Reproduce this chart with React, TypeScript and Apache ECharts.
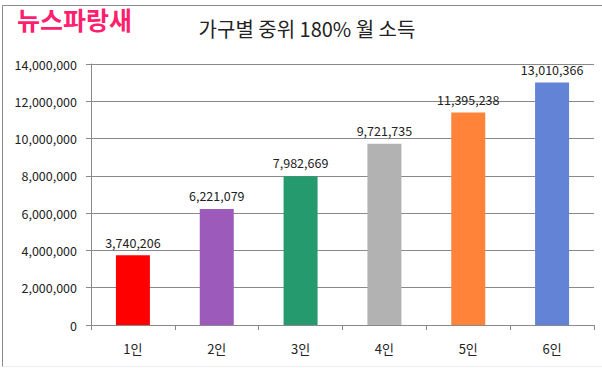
import React, { useEffect, useRef } from "react";
import * as echarts from "echarts";

const categories = ["1인", "2인", "3인", "4인", "5인", "6인"];
const values = [3740206, 6221079, 7982669, 9721735, 11395238, 13010366];
const barColors = ["#FF0000", "#9C5BBB", "#259A6F", "#B2B2B2", "#FF843A", "#6283D6"];
const titleText = "가구별 중위 180% 월 소득";
const watermark = "뉴스파랑새";

const fmt = (v: number) => v.toLocaleString("en-US");

export default function App() {
  const ref = useRef<HTMLDivElement>(null);
  useEffect(() => {
    if (!ref.current) return;
    const chart = echarts.init(ref.current, null, { renderer: "svg" });
    const font = "'Noto Sans CJK KR', 'Noto Sans', sans-serif";
    chart.setOption({
      animation: false,
      backgroundColor: "#ffffff",
      textStyle: { fontFamily: font },
      title: {
        text: titleText,
        left: 302,
        textAlign: "center",
        top: 13,
        textStyle: { fontSize: 20, fontWeight: "normal", color: "#222", fontFamily: font },
      },
      graphic: [
        { type: "line", shape: { x1: 2.5, y1: 5.5, x2: 602, y2: 5.5 }, style: { stroke: "#8a8a8a", lineWidth: 1 } },
        { type: "line", shape: { x1: 2.5, y1: 5.5, x2: 2.5, y2: 367 }, style: { stroke: "#8a8a8a", lineWidth: 1 } },
        { type: "line", shape: { x1: 2.5, y1: 366.5, x2: 602, y2: 366.5 }, style: { stroke: "#eeeeee", lineWidth: 1 } },
        {
          type: "text",
          left: 17,
          top: 6,
          z: 10,
          style: {
            text: watermark,
            fill: "#FF1F6E",
            font: `bold 25px ${font}`,
            shadowColor: "rgba(0,0,0,0.35)",
            shadowBlur: 3,
            shadowOffsetX: 1,
            shadowOffsetY: 2,
          },
        },
      ],
      grid: { left: 91, right: 8, top: 64, bottom: 43, containLabel: false },
      xAxis: {
        type: "category",
        data: categories,
        axisLine: { lineStyle: { color: "#898989", width: 1 } },
        axisTick: { show: true, length: 5, lineStyle: { color: "#898989" } },
        axisLabel: { color: "#222", fontSize: 13, margin: 17, fontFamily: font },
        splitLine: { show: false },
      },
      yAxis: {
        type: "value",
        min: 0,
        max: 14000000,
        interval: 2000000,
        axisLine: { show: true, lineStyle: { color: "#898989", width: 1 } },
        axisTick: { show: true, length: 5, lineStyle: { color: "#898989" } },
        axisLabel: { color: "#222", fontSize: 12.5, margin: 14, formatter: (v: number) => fmt(v), fontFamily: font },
        splitLine: { show: true, lineStyle: { color: "#898989", width: 1 } },
      },
      series: [
        {
          type: "bar",
          data: values.map((v, i) => ({ value: v, itemStyle: { color: barColors[i] } })),
          barWidth: 34,
          label: {
            show: true,
            position: "top",
            distance: 7,
            color: "#222",
            fontSize: 12.5,
            fontFamily: font,
            formatter: (p: any) => fmt(p.value),
          },
        },
      ],
    });
    return () => chart.dispose();
  }, []);
  return (
    <div
      ref={ref}
      style={{ position: "fixed", left: 0, top: 0, width: 602, height: 368 }}
    />
  );
}
